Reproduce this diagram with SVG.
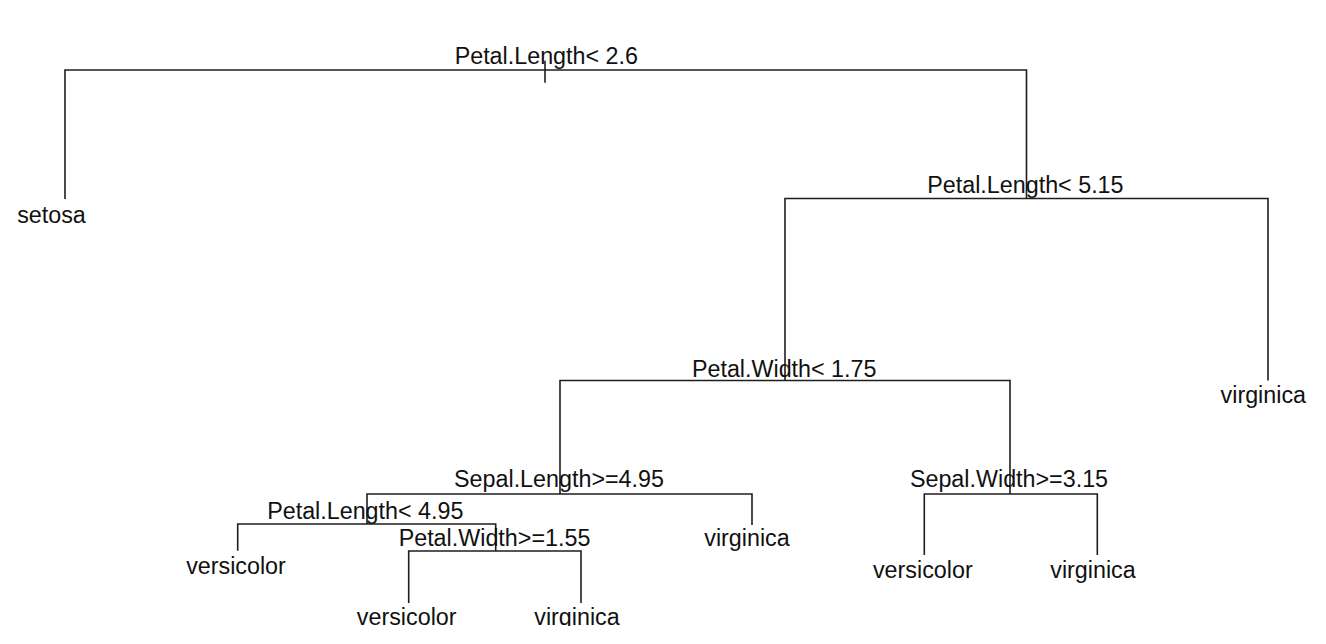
<svg xmlns="http://www.w3.org/2000/svg" width="1326" height="644" viewBox="0 0 1326 644">
<style>
.e{fill:none;stroke:#1e1e1e;stroke-width:1.6;}
text{font-family:"Liberation Sans",Arial,sans-serif;font-size:23.3px;fill:#111;text-anchor:middle;}
</style>
<defs><clipPath id="plot"><rect x="0" y="0" width="1326" height="626"/></clipPath></defs>
<rect width="1326" height="644" fill="#fff"/>
<g id="connectors">
<path class="e" d="M545 60.7V82.7"/>
<path class="e" d="M65 199V70H1026.5V198.5"/>
<path class="e" d="M785 380.5V198.5H1268V380.5"/>
<path class="e" d="M560 494V380.5H1010V494"/>
<path class="e" d="M367 524V494H752V525"/>
<path class="e" d="M237.7 550.7V524H495.7V551"/>
<path class="e" d="M408.7 603V551H581V603"/>
<path class="e" d="M924.3 555V494H1097.3V555"/>
</g>
<g clip-path="url(#plot)">
<g id="n1"><text x="546.3" y="63.5">Petal.Length&lt; 2.6</text></g>
<g id="n2"><text x="51.5" y="222.5">setosa</text></g>
<g id="n3"><text x="1025.4" y="193.3">Petal.Length&lt; 5.15</text></g>
<g id="n6"><text x="784.2" y="376.5">Petal.Width&lt; 1.75</text></g>
<g id="n7"><text x="1263.3" y="403.3">virginica</text></g>
<g id="n12"><text x="559" y="486.7">Sepal.Length&gt;=4.95</text></g>
<g id="n13"><text x="1009" y="486.7">Sepal.Width&gt;=3.15</text></g>
<g id="n24"><text x="365.3" y="519.3">Petal.Length&lt; 4.95</text></g>
<g id="n25"><text x="747" y="545.7">virginica</text></g>
<g id="n26"><text x="922.8" y="578">versicolor</text></g>
<g id="n27"><text x="1093" y="577.5">virginica</text></g>
<g id="n48"><text x="236" y="574">versicolor</text></g>
<g id="n49"><text x="494.5" y="545.7">Petal.Width&gt;=1.55</text></g>
<g id="n98"><text x="406.7" y="625">versicolor</text></g>
<g id="n99"><text x="577" y="625">virginica</text></g>
</g>
</svg>
